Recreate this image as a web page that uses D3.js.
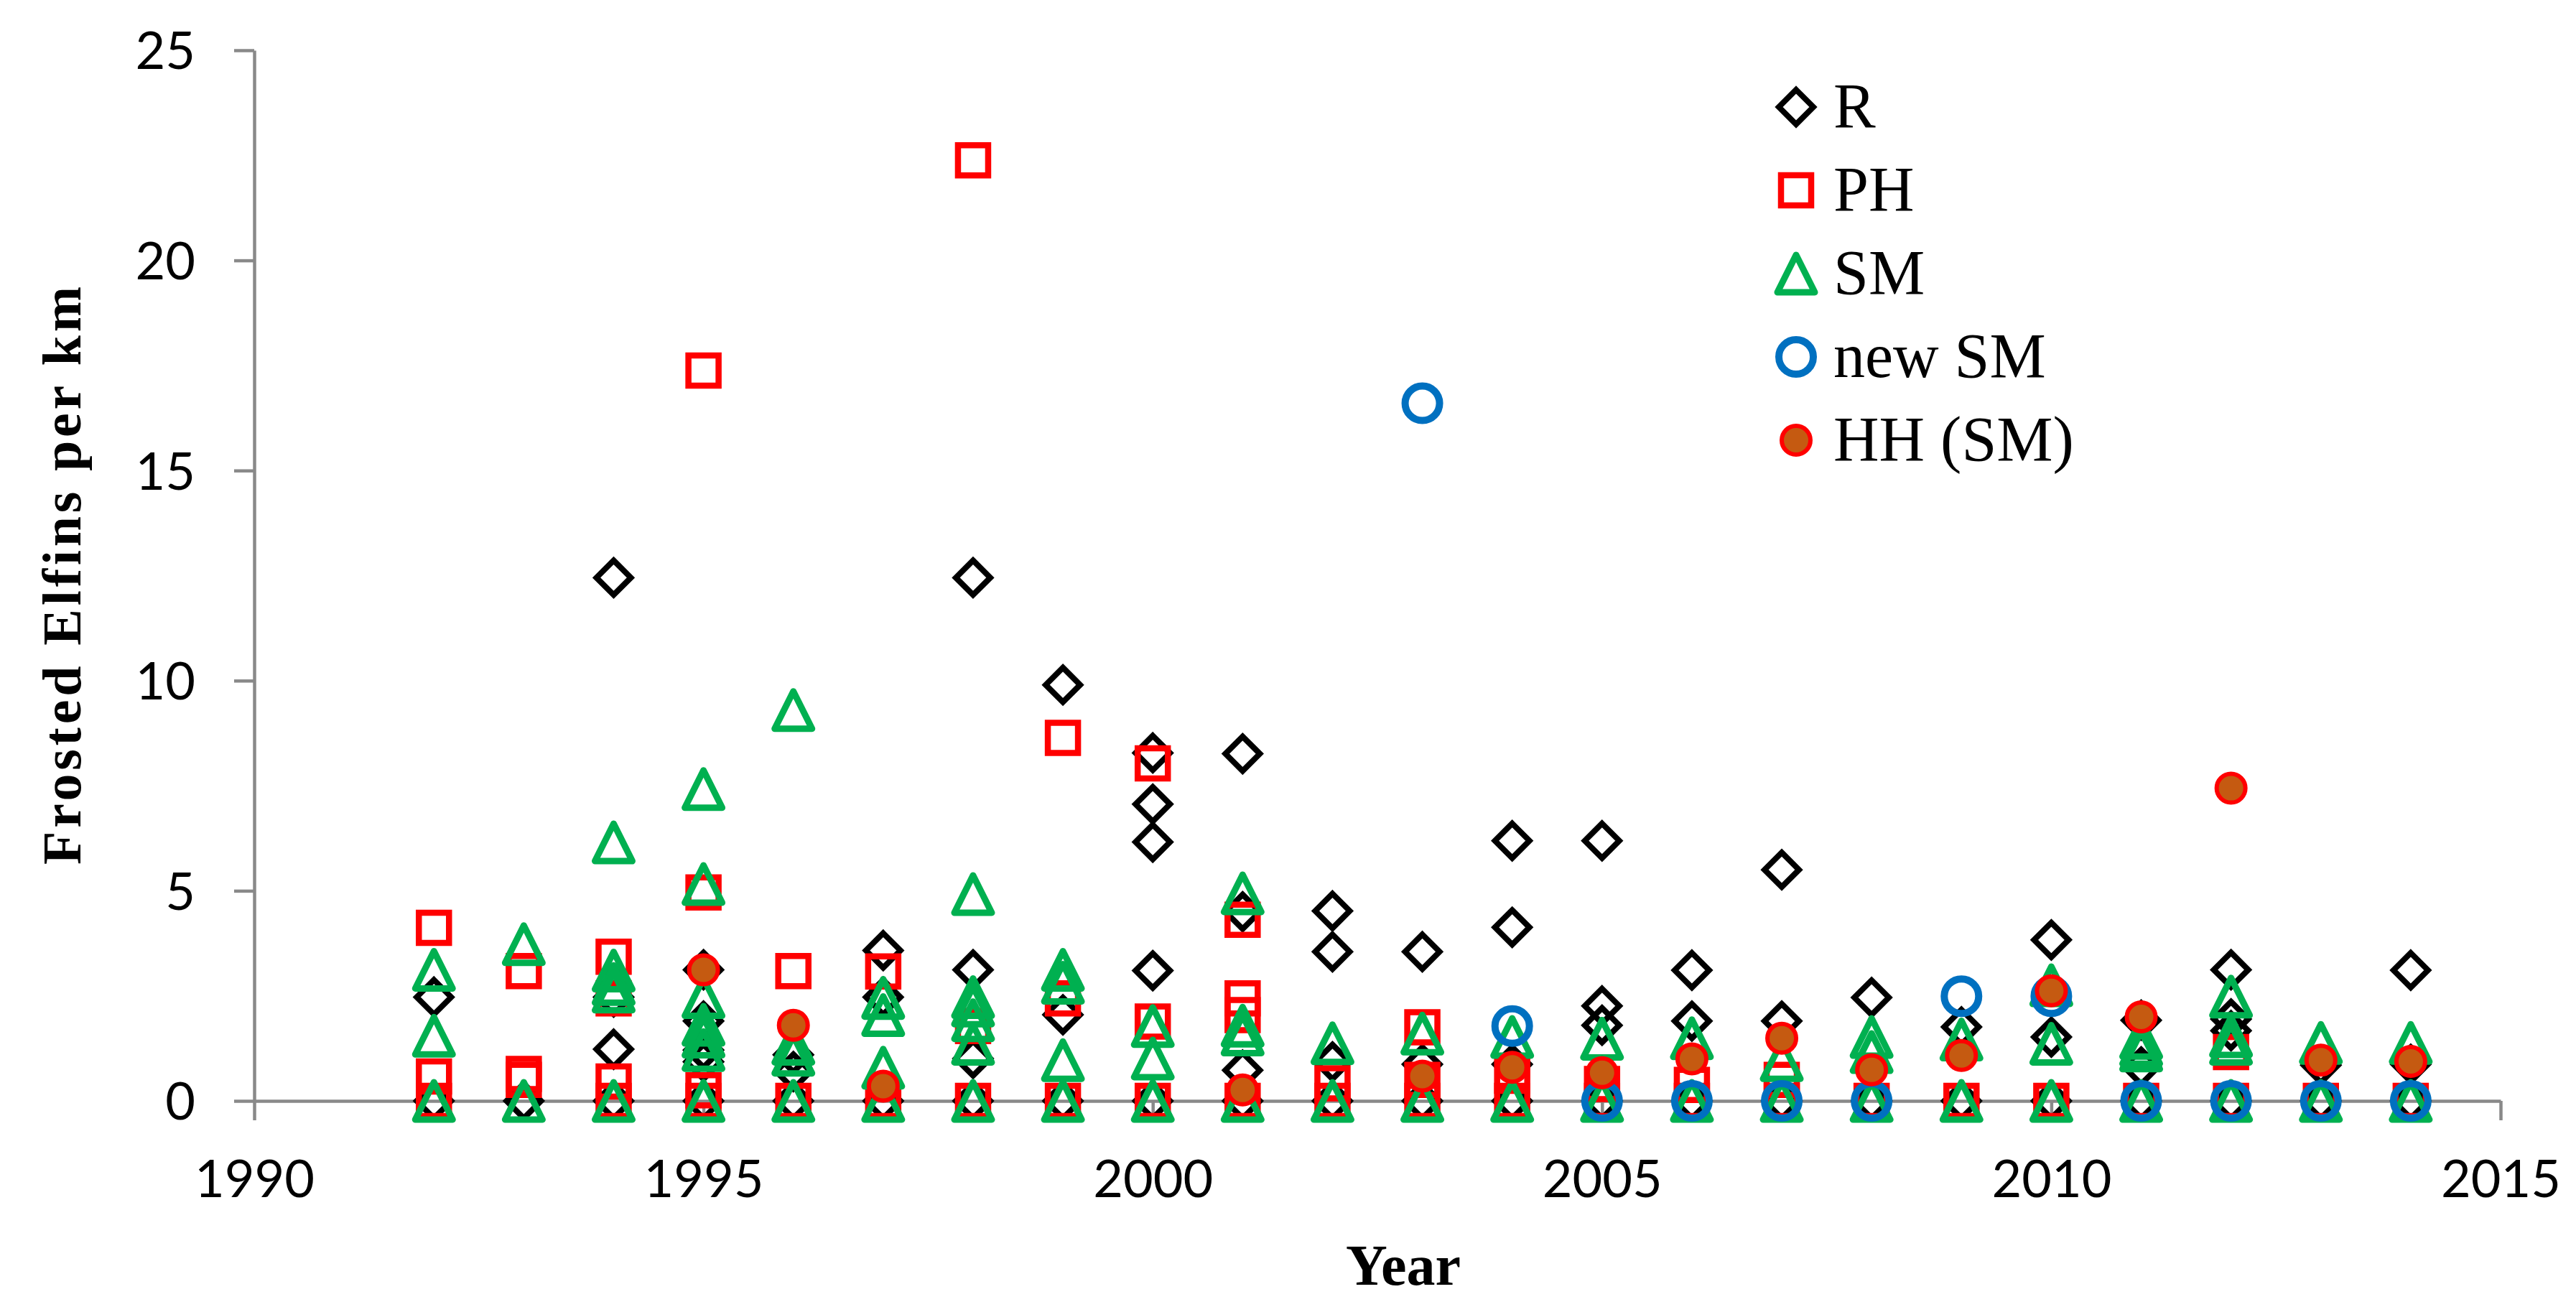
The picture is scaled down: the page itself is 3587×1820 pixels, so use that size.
<!DOCTYPE html>
<html>
<head>
<meta charset="utf-8">
<script src="https://cdn.jsdelivr.net/npm/d3@7"></script>
<style>
  body { margin: 0; background: #fff; }
  svg { display: block; }
</style>
</head>
<body>
<div id="chart"></div>
<script>
// values, [year, frosted elfins per km]
const rData = [
  [1992, 2.47], [1992, 0],
  [1993, 0],
  [1994, 12.45], [1994, 2.47], [1994, 1.23], [1994, 0],
  [1995, 3.12], [1995, 1.9], [1995, 1.21], [1995, 0.93], [1995, 0],
  [1996, 1.1], [1996, 0.7], [1996, 0],
  [1997, 3.58], [1997, 2.47], [1997, 0],
  [1998, 12.45], [1998, 3.12], [1998, 1.01], [1998, 0],
  [1999, 9.9], [1999, 2.05], [1999, 0],
  [2000, 8.28], [2000, 7.06], [2000, 6.16], [2000, 3.1], [2000, 0],
  [2001, 8.26], [2001, 4.5], [2001, 0.73], [2001, 0],
  [2002, 4.52], [2002, 3.55], [2002, 0.93], [2002, 0],
  [2003, 3.55], [2003, 0.87], [2003, 0],
  [2004, 6.19], [2004, 4.13], [2004, 0.87], [2004, 0],
  [2005, 6.19], [2005, 2.26], [2005, 1.8], [2005, 0],
  [2006, 3.11], [2006, 1.9], [2006, 0],
  [2007, 5.5], [2007, 1.9], [2007, 0],
  [2008, 2.46], [2008, 0],
  [2009, 1.76], [2009, 0],
  [2010, 3.83], [2010, 1.52], [2010, 0],
  [2011, 1.92], [2011, 0.81], [2011, 0],
  [2012, 3.12], [2012, 1.95], [2012, 1.67], [2012, 0],
  [2013, 0.85], [2013, 0],
  [2014, 3.11], [2014, 0.87], [2014, 0]
];

const phData = [
  [1992, 4.12], [1992, 0.58], [1992, 0],
  [1993, 3.09], [1993, 0.64], [1993, 0.5],
  [1994, 3.43], [1994, 2.44], [1994, 0.46], [1994, 0],
  [1995, 17.38], [1995, 4.96], [1995, 0.25], [1995, 0],
  [1996, 3.09], [1996, 0],
  [1997, 3.08], [1997, 0],
  [1998, 22.38], [1998, 1.78], [1998, 0],
  [1999, 8.64], [1999, 2.44], [1999, 0],
  [2000, 8.03], [2000, 1.89], [2000, 0],
  [2001, 4.31], [2001, 2.44], [2001, 2.04], [2001, 0],
  [2002, 0.42], [2002, 0],
  [2003, 1.75], [2003, 0.5], [2003, 0],
  [2004, 0.6], [2004, 0],
  [2005, 0.4], [2005, 0],
  [2006, 0.38], [2006, 0],
  [2007, 0.5], [2007, 0],
  [2008, 0], [2009, 0], [2010, 0], [2011, 0],
  [2012, 1.16], [2012, 0],
  [2013, 0], [2014, 0]
];

const smData = [
  [1992, 3.12], [1992, 1.55], [1992, 0],
  [1993, 3.73], [1993, 0],
  [1994, 6.15], [1994, 3.1], [1994, 2.78], [1994, 2.6], [1994, 0],
  [1995, 7.42], [1995, 5.16], [1995, 2.47], [1995, 1.81], [1995, 1.53], [1995, 1.21], [1995, 0],
  [1996, 9.3], [1996, 1.36], [1996, 1.1], [1996, 0],
  [1997, 2.45], [1997, 2.04], [1997, 0.79], [1997, 0],
  [1998, 4.92], [1998, 2.47], [1998, 2.27], [1998, 1.92], [1998, 1.36], [1998, 0],
  [1999, 3.12], [1999, 2.81], [1999, 0.97], [1999, 0],
  [2000, 1.78], [2000, 1.01], [2000, 0],
  [2001, 4.94], [2001, 1.79], [2001, 1.58], [2001, 0],
  [2002, 1.37], [2002, 0],
  [2003, 1.6], [2003, 0],
  [2004, 1.52], [2004, 0],
  [2005, 1.48], [2005, 0],
  [2006, 1.49], [2006, 0],
  [2007, 0.97], [2007, 0],
  [2008, 1.52], [2008, 1.16], [2008, 0],
  [2009, 1.46], [2009, 0],
  [2010, 2.75], [2010, 1.36], [2010, 0],
  [2011, 1.5], [2011, 1.33], [2011, 1.2], [2011, 0],
  [2012, 2.48], [2012, 1.54], [2012, 1.36], [2012, 0],
  [2013, 1.38], [2013, 0],
  [2014, 1.38], [2014, 0]
];

const newSmData = [
  [2003, 16.6], [2004, 1.78], [2005, 0], [2006, 0], [2007, 0], [2008, 0],
  [2009, 2.49], [2010, 2.49], [2011, 0], [2012, 0], [2013, 0], [2014, 0]
];

const hhData = [
  [1995, 3.12], [1996, 1.8], [1997, 0.35], [2001, 0.26], [2003, 0.59],
  [2004, 0.8], [2005, 0.67], [2006, 1.0], [2007, 1.49], [2008, 0.74],
  [2009, 1.08], [2010, 2.62], [2011, 2.0], [2012, 7.44], [2013, 0.97], [2014, 0.94]
];

const xTicks = [1990, 1995, 2000, 2005, 2010, 2015];
const yTicks = [0, 5, 10, 15, 20, 25];

const width = 3587, height = 1820;
const axisGray = '#898989';

const svg = d3.select('#chart')
  .append('svg')
  .attr('width', width)
  .attr('height', height);

const x = d3.scaleLinear().domain([1990, 2015]).range([354, 3482]);
const y = d3.scaleLinear().domain([0, 25]).range([1533, 70]);

// marker shapes, centred on 0,0
const shapes = {
  diamond: s => `M0,${-s}L${s},0L0,${s}L${-s},0Z`,
  square: s => `M${-s},${-s}H${s}V${s}H${-s}Z`,
  triangle: s => `M0,${-s}L${s},${s}L${-s},${s}Z`
};

const series = [
  { name: 'R', data: rData, kind: 'diamond', size: 24, stroke: '#000000', fill: 'none', sw: 8, join: 'miter' },
  { name: 'PH', data: phData, kind: 'square', size: 21, stroke: '#FF0000', fill: 'none', sw: 8.5, join: 'miter' },
  { name: 'SM', data: smData, kind: 'triangle', size: 26, stroke: '#00B050', fill: 'none', sw: 9, join: 'round' },
  { name: 'new SM', data: newSmData, kind: 'circle', size: 24, stroke: '#0070C0', fill: 'none', sw: 10 },
  { name: 'HH (SM)', data: hhData, kind: 'circle', size: 20, stroke: '#FF0000', fill: '#C55A11', sw: 6 }
];

function drawMarker(sel, s) {
  if (s.kind === 'circle') {
    sel.append('circle')
      .attr('r', s.size);
  } else {
    sel.append('path')
      .attr('d', shapes[s.kind](s.size))
      .attr('stroke-linejoin', s.join);
  }
  sel.selectAll('circle, path')
    .attr('fill', s.fill)
    .attr('stroke', s.stroke)
    .attr('stroke-width', s.sw);
}

// axes
const yAxis = svg.append('g')
  .attr('transform', `translate(${x(1990)},0)`)
  .call(d3.axisLeft(y).tickValues(yTicks).tickSize(28).tickSizeOuter(0).tickFormat(d3.format('d')));

const xAxis = svg.append('g')
  .attr('transform', `translate(0,${y(0)})`)
  .call(d3.axisBottom(x).tickValues(xTicks).tickSize(27).tickSizeOuter(0).tickFormat(d3.format('d')));

[yAxis, xAxis].forEach(ax => {
  ax.attr('font-family', 'Lato, "Open Sans", sans-serif').attr('font-size', 72);
  ax.select('.domain').attr('stroke', axisGray).attr('stroke-width', 4.5);
  ax.selectAll('.tick line').attr('stroke', axisGray).attr('stroke-width', 4.5);
  ax.selectAll('.tick text').attr('fill', '#000');
});

yAxis.selectAll('.tick text')
  .attr('x', -82)
  .attr('dy', '0.36em');

xAxis.selectAll('.tick text')
  .attr('y', 134)
  .attr('dy', null);

// points, drawn series by series so later ones sit on top
const plot = svg.append('g');
series.forEach(s => {
  const g = plot.append('g').attr('class', 'series');
  g.selectAll('.pt')
    .data(s.data)
    .join('g')
    .attr('class', 'pt')
    .attr('transform', d => `translate(${x(d[0])},${y(d[1])})`)
    .each(function () { drawMarker(d3.select(this), s); });
});

// axis titles
svg.append('text')
  .attr('transform', `translate(112,${(y(0) + y(25)) / 2}) rotate(-90)`)
  .attr('text-anchor', 'middle')
  .attr('font-family', '"Liberation Serif", "DejaVu Serif", serif')
  .attr('font-weight', 'bold')
  .attr('font-size', 76)
  .attr('textLength', 805)
  .attr('lengthAdjust', 'spacing')
  .text('Frosted Elfins per km');

svg.append('text')
  .attr('x', 1954)
  .attr('y', 1789)
  .attr('text-anchor', 'middle')
  .attr('font-family', '"Liberation Serif", "DejaVu Serif", serif')
  .attr('font-weight', 'bold')
  .attr('font-size', 80)
  .text('Year');

// legend
const legend = svg.append('g').attr('transform', 'translate(2501,149)');
const rows = legend.selectAll('.row')
  .data(series)
  .join('g')
  .attr('class', 'row')
  .attr('transform', (d, i) => `translate(0,${i * 116})`);

rows.each(function (s) { drawMarker(d3.select(this), s); });

rows.append('text')
  .attr('x', 52)
  .attr('y', 28)
  .attr('font-family', '"Liberation Serif", "DejaVu Serif", serif')
  .attr('font-size', 88)
  .attr('fill', '#000')
  .text(d => d.name);
</script>
</body>
</html>
